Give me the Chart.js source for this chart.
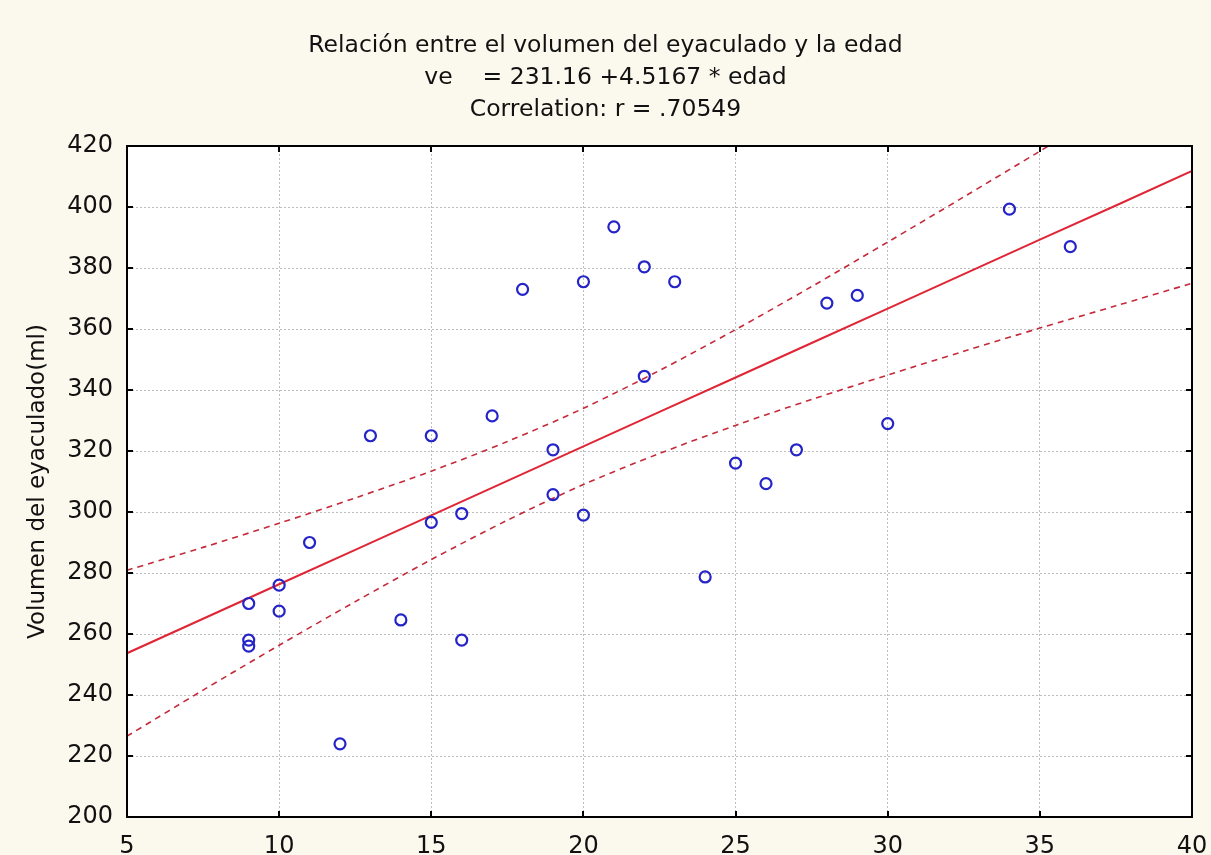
<!DOCTYPE html>
<html lang="es">
<head>
<meta charset="utf-8">
<title>Relación entre el volumen del eyaculado y la edad</title>
<script src="https://cdn.jsdelivr.net/npm/chart.js@4.4.1/dist/chart.umd.min.js"></script>
<style>
  html, body { margin: 0; padding: 0; background: #fbf8ed; }
  #wrap { width: 1211px; height: 855px; }
  canvas { display: block; }
</style>
</head>
<body>
<div id="wrap"><canvas id="chart" width="1211" height="855"></canvas></div>
<script>
/* Scatter of semen volume vs age, with linear fit and 95% confidence band. */

// observations (edad, volumen en ml)
const edad = [9, 9, 9, 10, 10, 11, 12, 13, 14, 15, 15, 16, 16, 17, 18, 19, 19, 20, 20, 21, 22, 22, 23, 24, 25, 26, 27, 28, 29, 30, 34, 36];
const volumen = [270, 258, 256, 276, 267.5, 290, 224, 325, 264.6, 325, 296.6, 299.5, 258, 331.5, 373, 320.4, 305.7, 375.5, 299, 393.5, 380.4, 344.5, 375.5, 278.7, 316, 309.3, 320.4, 368.5, 371, 329, 399.3, 387];

// fitted line and confidence limits, read along the x axis
const bandX = [5, 7.5, 10, 12.5, 15, 17.5, 20, 22.5, 25, 27.5, 30, 32.5, 35, 37.5, 40];
const fitY = [253.7, 265.0, 276.3, 287.6, 298.9, 310.2, 321.5, 332.8, 344.1, 355.4, 366.7, 378.0, 389.3, 400.5, 411.8];
const upperY = [280.9, 288.4, 296.3, 304.6, 313.4, 323.1, 334.0, 346.4, 359.8, 373.9, 388.5, 403.3, 418.3, 433.4, 448.6];
const lowerY = [226.5, 241.6, 256.3, 270.6, 284.4, 297.3, 309.0, 319.2, 328.4, 336.9, 344.9, 352.7, 360.3, 367.6, 375.0];

const xTicks = [5, 10, 15, 20, 25, 30, 35, 40];
const yTicks = [200, 220, 240, 260, 280, 300, 320, 340, 360, 380, 400, 420];

const titleLines = [
  'Relación entre el volumen del eyaculado y la edad',
  've    = 231.16 +4.5167 * edad',
  'Correlation: r = .70549'
];
const yTitle = 'Volumen del eyaculado(ml)';

(function () {
  'use strict';
  const FONT = 'DejaVu Sans';
  const PAGE_BG = '#fbf8ed';
  const GRID = '#bdbdbd';
  const TICK_IN = 6;

  const pts = (xs, ys) => xs.map((x, i) => ({ x, y: ys[i] }));
  const fixTicks = list => scale => { scale.ticks = list.map(v => ({ value: v })); };

  // cream page, white plot area, black frame with short inward ticks
  const framePlugin = {
    id: 'frame',
    beforeDraw(chart) {
      const { ctx, chartArea: a, width, height } = chart;
      ctx.save();
      ctx.fillStyle = PAGE_BG;
      ctx.fillRect(0, 0, width, height);
      ctx.fillStyle = '#ffffff';
      ctx.fillRect(a.left, a.top, a.right - a.left, a.bottom - a.top);
      ctx.restore();
    },
    afterDraw(chart) {
      const { ctx, chartArea: a, scales } = chart;
      ctx.save();
      ctx.strokeStyle = '#000';
      ctx.lineWidth = 2;
      ctx.strokeRect(a.left, a.top, a.right - a.left, a.bottom - a.top);
      ctx.beginPath();
      scales.x.ticks.forEach(t => {
        const px = Math.round(scales.x.getPixelForValue(t.value));
        ctx.moveTo(px, a.bottom); ctx.lineTo(px, a.bottom - TICK_IN);
        ctx.moveTo(px, a.top); ctx.lineTo(px, a.top + TICK_IN);
      });
      scales.y.ticks.forEach(t => {
        const py = Math.round(scales.y.getPixelForValue(t.value));
        ctx.moveTo(a.left, py); ctx.lineTo(a.left + TICK_IN, py);
        ctx.moveTo(a.right, py); ctx.lineTo(a.right - TICK_IN, py);
      });
      ctx.stroke();
      ctx.restore();
    }
  };

  const band = (ys, label) => ({
    type: 'line', label, data: pts(bandX, ys),
    borderColor: '#c42a3a', borderWidth: 1.6, borderDash: [6, 5],
    pointRadius: 0, fill: false, tension: 0.3, order: 2
  });

  new Chart(document.getElementById('chart'), {
    type: 'scatter',
    data: {
      datasets: [
        {
          label: 'Observaciones', data: pts(edad, volumen),
          pointStyle: 'circle', pointRadius: 5.5, pointBorderWidth: 2.2,
          borderColor: '#2424c8', pointBorderColor: '#2424c8',
          backgroundColor: 'rgba(0,0,0,0)', pointBackgroundColor: 'rgba(0,0,0,0)', order: 1
        },
        {
          type: 'line', label: 'Ajuste', data: pts(bandX, fitY),
          borderColor: '#e02535', borderWidth: 2, pointRadius: 0, fill: false, order: 2
        },
        band(upperY, 'Límite superior'),
        band(lowerY, 'Límite inferior')
      ]
    },
    options: {
      responsive: false,
      devicePixelRatio: 1,
      animation: false,
      layout: { padding: 0 },
      plugins: {
        legend: { display: false },
        tooltip: { enabled: false },
        title: {
          display: true, text: titleLines, color: '#111',
          font: { family: FONT, size: 23.5, weight: 'normal', lineHeight: '32px' },
          padding: { top: 30, bottom: 20 }
        }
      },
      scales: {
        x: {
          type: 'linear', min: 5, max: 40,
          afterBuildTicks: fixTicks(xTicks),
          afterFit: s => { s.height = 38; s.paddingLeft = 0; s.paddingRight = 19; },
          ticks: { color: '#111', padding: 15, font: { family: FONT, size: 24 } },
          grid: { color: GRID, lineWidth: 1, drawTicks: false },
          border: { display: true, color: '#000', width: 2, dash: [2, 2] }
        },
        y: {
          type: 'linear', min: 200, max: 420,
          afterBuildTicks: fixTicks(yTicks),
          afterFit: s => { s.width = 127; },
          ticks: { color: '#111', padding: 14, font: { family: FONT, size: 24 } },
          grid: { color: GRID, lineWidth: 1, drawTicks: false },
          border: { display: true, color: '#000', width: 2, dash: [2, 2] },
          title: {
            display: true, text: yTitle, color: '#111',
            font: { family: FONT, size: 23, weight: 'normal' },
            padding: { top: 24, bottom: 0 }
          }
        }
      }
    },
    plugins: [framePlugin]
  });
})();
</script>
</body>
</html>
